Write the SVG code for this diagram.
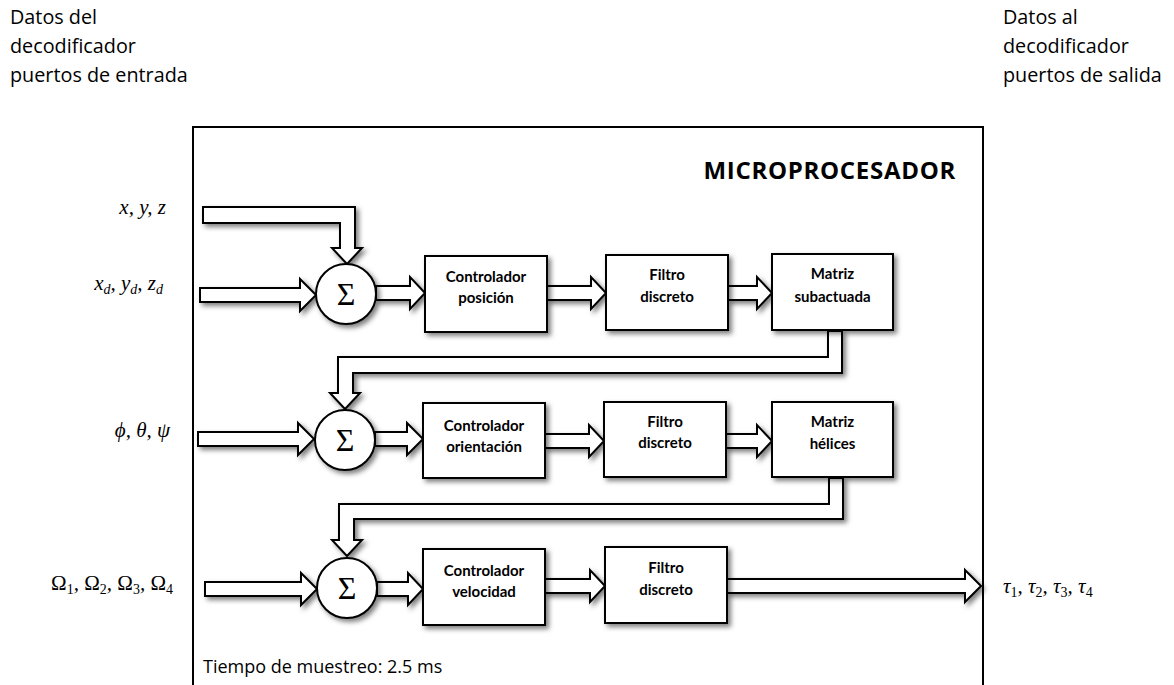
<svg xmlns="http://www.w3.org/2000/svg" width="1174" height="685" viewBox="0 0 1174 685">
  <style>
    .note { font-family: "Open Sans", "Noto Sans", sans-serif; font-size: 19.8px; fill: #000; }
    .title { font-family: "Open Sans", "Noto Sans", sans-serif; font-size: 24px; font-weight: bold; letter-spacing: 0.7px; fill: #000; }
    .foot { font-family: "Open Sans", "Noto Sans", sans-serif; font-size: 18px; fill: #000; }
    .math { font-family: "Liberation Serif", "DejaVu Serif", serif; font-size: 21px; font-style: italic; fill: #000; }
    .up { font-style: normal; }
    .sub { font-size: 14px; font-style: normal; }
    .subi { font-size: 14px; }
    .blk { fill: #fff; stroke: #000; stroke-width: 2; filter: url(#shadow); }
    .lbl { font-family: "Lato", "Liberation Sans", sans-serif; font-size: 15px; font-weight: bold; fill: #000; text-anchor: middle; }
    .arr { fill: #fff; stroke: #000; stroke-width: 2; stroke-linejoin: miter; filter: url(#shadow); }
    .sig { font-family: "Liberation Serif", "DejaVu Serif", serif; font-size: 32px; fill: #000; text-anchor: middle; }
  </style>
  <defs>
    <filter id="shadow" x="-20%" y="-20%" width="150%" height="160%">
      <feDropShadow dx="3" dy="3" stdDeviation="2.4" flood-color="#000" flood-opacity="0.5"/>
    </filter>
  </defs>

  <rect width="1174" height="685" fill="#fff"/>

  <!-- port annotations -->
  <g id="in-ports">
    <text class="note" x="10" y="24">Datos del</text>
    <text class="note" x="10" y="53">decodificador</text>
    <text class="note" x="10" y="82">puertos de entrada</text>
  </g>
  <g id="out-ports">
    <text class="note" x="1003" y="24">Datos al</text>
    <text class="note" x="1003" y="53">decodificador</text>
    <text class="note" x="1003" y="82">puertos de salida</text>
  </g>

  <!-- microprocessor frame (open at the bottom) -->
  <g id="micro">
    <path d="M193,690 V127 H983 V690" fill="none" stroke="#000" stroke-width="2"/>
    <text class="title" x="956" y="179" text-anchor="end">MICROPROCESADOR</text>
    <text class="foot" x="203" y="673">Tiempo de muestreo: 2.5 ms</text>
  </g>

  <!-- signal labels -->
  <g id="signals">
    <text class="math" x="166" y="214" text-anchor="end">x, y, z</text>
    <text class="math" x="163" y="290" text-anchor="end">x<tspan class="subi" dy="4">d</tspan><tspan dy="-4">, y</tspan><tspan class="subi" dy="4">d</tspan><tspan dy="-4">, z</tspan><tspan class="subi" dy="4">d</tspan></text>
    <text class="math" x="170" y="437" text-anchor="end">ϕ, θ, ψ</text>
    <text class="math" x="173" y="590" text-anchor="end"><tspan class="up">Ω</tspan><tspan class="sub" dy="4">1</tspan><tspan dy="-4">, </tspan><tspan class="up">Ω</tspan><tspan class="sub" dy="4">2</tspan><tspan dy="-4">, </tspan><tspan class="up">Ω</tspan><tspan class="sub" dy="4">3</tspan><tspan dy="-4">, </tspan><tspan class="up">Ω</tspan><tspan class="sub" dy="4">4</tspan></text>
    <text class="math" x="1003" y="593">τ<tspan class="sub" dy="4">1</tspan><tspan dy="-4">, τ</tspan><tspan class="sub" dy="4">2</tspan><tspan dy="-4">, τ</tspan><tspan class="sub" dy="4">3</tspan><tspan dy="-4">, τ</tspan><tspan class="sub" dy="4">4</tspan></text>
  </g>

  <!-- block arrows -->
  <g id="connectors">
    <!-- row 1 -->
    <polygon class="arr" points="203,207 355,207 355,248 362,248 347,264 332,248 340,248 340,223 203,223"/>
    <polygon class="arr" points="200,288 300,288 300,279 316,295 300,311 300,302 200,302"/>
    <polygon class="arr" points="376,286 410,286 410,277 425,293 410,309 410,300 376,300"/>
    <polygon class="arr" points="547,286 591,286 591,277 606,293 591,309 591,300 547,300"/>
    <polygon class="arr" points="728,286 757,286 757,277 772,293 757,309 757,300 728,300"/>
    <!-- feedback to row 2 -->
    <polygon class="arr" points="828,331 828,357 338,357 338,393 330,393 345,409 360,393 353,393 353,373 842,373 842,331"/>
    <!-- row 2 -->
    <polygon class="arr" points="198,432 298,432 298,423 314,439 298,455 298,446 198,446"/>
    <polygon class="arr" points="375,432 407,432 407,423 423,439 407,455 407,446 375,446"/>
    <polygon class="arr" points="545,434 589,434 589,425 604,441 589,457 589,448 545,448"/>
    <polygon class="arr" points="726,434 757,434 757,425 772,441 757,457 757,448 726,448"/>
    <!-- feedback to row 3 -->
    <polygon class="arr" points="829,478 829,504 339,504 339,540 332,540 347,556 362,540 354,540 354,519 843,519 843,478"/>
    <!-- row 3 -->
    <polygon class="arr" points="205,582 301,582 301,573 317,589 301,605 301,596 205,596"/>
    <polygon class="arr" points="377,582 408,582 408,573 423,589 408,605 408,596 377,596"/>
    <polygon class="arr" points="545,579 590,579 590,570 605,586 590,602 590,593 545,593"/>
    <polygon class="arr" points="727,579 965,579 965,570 981,586 965,602 965,593 727,593"/>
  </g>

  <!-- row 1 -->
  <g id="sum1">
    <circle class="blk" cx="346" cy="294" r="30"/>
    <text class="sig" x="346" y="305">Σ</text>
  </g>
  <g id="ctrl-pos">
    <rect class="blk" x="425" y="256" width="122" height="76"/>
    <text class="lbl" x="486" y="282">Controlador</text>
    <text class="lbl" x="486" y="303">posición</text>
  </g>
  <g id="filter1">
    <rect class="blk" x="606" y="255" width="122" height="75"/>
    <text class="lbl" x="667" y="280">Filtro</text>
    <text class="lbl" x="667" y="302">discreto</text>
  </g>
  <g id="matrix-sub">
    <rect class="blk" x="772" y="254" width="121" height="76"/>
    <text class="lbl" x="832.5" y="279">Matriz</text>
    <text class="lbl" x="832.5" y="302">subactuada</text>
  </g>

  <!-- row 2 -->
  <g id="sum2">
    <circle class="blk" cx="345" cy="440" r="30"/>
    <text class="sig" x="345" y="451">Σ</text>
  </g>
  <g id="ctrl-ori">
    <rect class="blk" x="423" y="403" width="122" height="75"/>
    <text class="lbl" x="484" y="431">Controlador</text>
    <text class="lbl" x="484" y="452">orientación</text>
  </g>
  <g id="filter2">
    <rect class="blk" x="604" y="402" width="122" height="75"/>
    <text class="lbl" x="665" y="427">Filtro</text>
    <text class="lbl" x="665" y="448">discreto</text>
  </g>
  <g id="matrix-hel">
    <rect class="blk" x="772" y="402" width="121" height="75"/>
    <text class="lbl" x="832.5" y="427">Matriz</text>
    <text class="lbl" x="832.5" y="449">hélices</text>
  </g>

  <!-- row 3 -->
  <g id="sum3">
    <circle class="blk" cx="347" cy="588" r="30"/>
    <text class="sig" x="347" y="599">Σ</text>
  </g>
  <g id="ctrl-vel">
    <rect class="blk" x="423" y="549" width="122" height="76"/>
    <text class="lbl" x="484" y="576">Controlador</text>
    <text class="lbl" x="484" y="597">velocidad</text>
  </g>
  <g id="filter3">
    <rect class="blk" x="605" y="547" width="122" height="76"/>
    <text class="lbl" x="666" y="573">Filtro</text>
    <text class="lbl" x="666" y="595">discreto</text>
  </g>
</svg>
